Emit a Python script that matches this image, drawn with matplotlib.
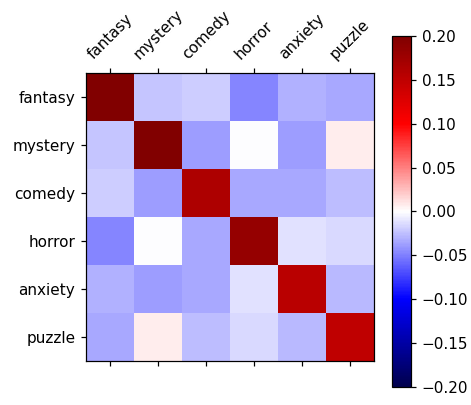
import numpy as np
import matplotlib
matplotlib.use("Agg")
import matplotlib.pyplot as plt

genres = ["fantasy", "mystery", "comedy", "horror", "anxiety", "puzzle"]

# values (seismic, -0.2..0.2)
row_fantasy = [0.197, -0.022, -0.019, -0.047, -0.030, -0.033]
row_mystery = [-0.022, 0.197, -0.039, -0.001, -0.039, 0.0075]
row_comedy = [-0.019, -0.039, 0.163, -0.034, -0.034, -0.0255]
row_horror = [-0.047, -0.001, -0.034, 0.182, -0.011, -0.015]
row_anxiety = [-0.030, -0.039, -0.034, -0.011, 0.154, -0.028]
row_puzzle = [-0.033, 0.0075, -0.0255, -0.015, -0.028, 0.149]

cbar_ticks = [-0.2, -0.15, -0.1, -0.05, 0.0, 0.05, 0.1, 0.15, 0.2]

corr = np.array([row_fantasy, row_mystery, row_comedy,
                 row_horror, row_anxiety, row_puzzle])

dpi = 110
fig = plt.figure(figsize=(471 / dpi, 405 / dpi), dpi=dpi)
ax = fig.add_axes([0.1826, 0.1086, 0.6115, 0.711])
cax = fig.add_axes([0.832, 0.0444, 0.0403, 0.867])

im = ax.imshow(corr, cmap="seismic", vmin=-0.2, vmax=0.2, aspect="equal")
ax.set_xticks(range(len(genres)))
ax.set_yticks(range(len(genres)))
ax.set_xticklabels(genres, rotation=45)
ax.set_yticklabels(genres)
ax.tick_params(top=True, bottom=True, labeltop=True, labelbottom=False)


def fmt(v, pos):
    s = f"{round(v, 2) + 0.0:.2f}"
    return s.replace("-", "\u2212")


cb = fig.colorbar(im, cax=cax)
cb.set_ticks(cbar_ticks)
cb.ax.yaxis.set_major_formatter(matplotlib.ticker.FuncFormatter(fmt))

fig.savefig("out.png", dpi=dpi)
